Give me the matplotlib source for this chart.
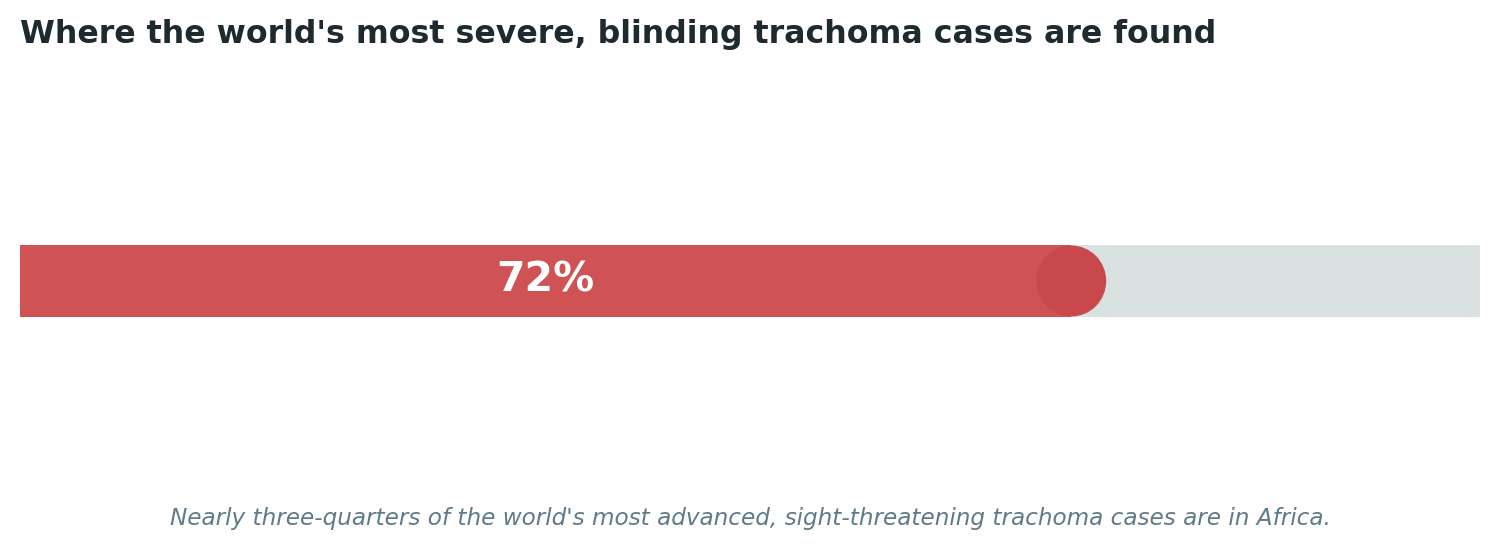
import matplotlib
matplotlib.use("Agg")
import matplotlib.pyplot as plt
from matplotlib.patches import Ellipse

# Share of severe trachoma cases found in Africa
share_pct = [72]
total_pct = [100]
label = ["72%"]

TITLE = "Where the world's most severe, blinding trachoma cases are found"
SUBTITLE = ("Nearly three-quarters of the world's most advanced, "
            "sight-threatening trachoma cases are in Africa.")

W, H = 1500, 550
fig = plt.figure(figsize=(W / 100, H / 100), dpi=100)
ax = fig.add_axes([20 / W, 0, 1460 / W, 1])
ax.set_xlim(0, 100)
ax.set_ylim(0, 1)
ax.axis("off")

yc = 1 - 281 / H
bh = 72 / H
ax.barh([yc], total_pct, height=bh, color="#dae2e1", left=0)
ax.barh([yc], share_pct, height=bh, color="#cf5355", left=0)
ax.add_patch(Ellipse((share_pct[0], yc), 70 / 1460 * 100, 71 / H,
                     color="#c9484c", zorder=3, lw=0))
ax.text(share_pct[0] / 2, yc, label[0], ha="center", va="center",
        color="white", fontsize=29.5, fontweight="bold", zorder=4)

fig.text(20 / W, 1 - 35 / H, TITLE, ha="left", va="center",
         fontsize=22.8, fontweight="bold", color="#1f2a2e")
fig.text(0.5, 1 - 519 / H, SUBTITLE, ha="center", va="center",
         fontsize=16.7, style="italic", color="#5f7a88")

fig.savefig("out.png", dpi=100)
